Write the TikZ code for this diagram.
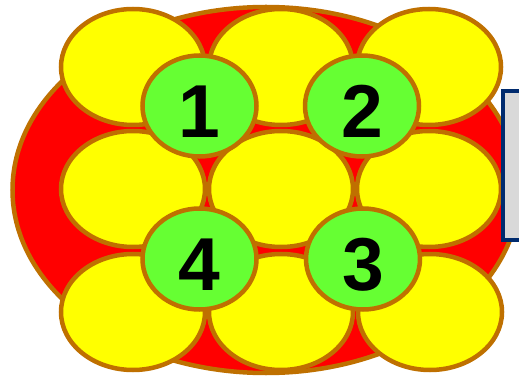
\documentclass[tikz,border=0pt]{standalone}
\usepackage{fontspec}
\setmainfont{Liberation Sans}
\usetikzlibrary{shapes.geometric}
\definecolor{rim}{HTML}{BF7000}
\definecolor{petal}{HTML}{FFFF00}
\definecolor{core}{HTML}{66FF33}
\definecolor{boxgray}{HTML}{D9D9D9}
\definecolor{boxblue}{HTML}{002B6E}
\tikzset{
  bigblob/.style={ellipse, draw=rim, fill=red, line width=4.5pt, minimum width=507pt, minimum height=366pt, inner sep=0pt},
  petalbox/.style={ellipse, draw=rim, fill=petal, line width=4.5pt, minimum width=144pt, minimum height=116pt, inner sep=0pt},
  corebox/.style={ellipse, draw=rim, fill=core, line width=4.5pt, minimum width=114pt, minimum height=101pt, inner sep=0pt, text height=63pt, text depth=0pt, font=\fontsize{75}{75}\selectfont\bfseries},
  sidebox/.style={rectangle, draw=boxblue, fill=boxgray, line width=4pt, minimum width=60pt, minimum height=149pt, inner sep=0pt}
}
\begin{document}
\begin{tikzpicture}[x=1pt,y=-1pt]
\useasboundingbox (0,0) rectangle (519,379);
\node[bigblob] (blob) at (266,190) {};
\node[petalbox] (p11) at (133,67) {};
\node[petalbox] (p12) at (281,67) {};
\node[petalbox] (p13) at (429,67) {};
\node[petalbox] (p21) at (133,189) {};
\node[petalbox] (p22) at (281,189) {};
\node[petalbox] (p23) at (429,189) {};
\node[petalbox] (p31) at (133,312) {};
\node[petalbox] (p32) at (281,312) {};
\node[petalbox] (p33) at (430,312) {};
\node[corebox] (c1) at (199.5,106) {1};
\node[corebox] (c2) at (362,106) {2};
\node[corebox] (c4) at (199.5,259) {4};
\node[corebox] (c3) at (363,259) {3};
\node[sidebox, anchor=north west] (side) at (501,89) {};
\end{tikzpicture}
\end{document}
